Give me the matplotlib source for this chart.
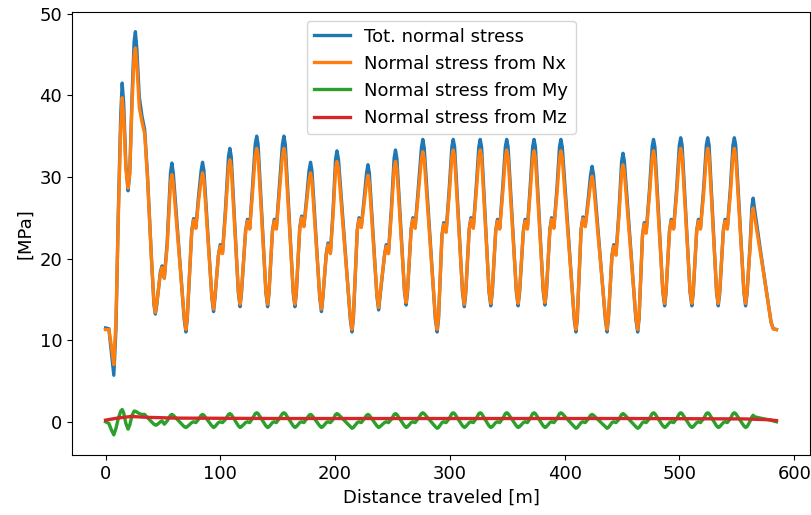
import matplotlib
matplotlib.use("Agg")
import matplotlib.pyplot as plt
import numpy as np

plt.rcParams['font.size'] = 13

# distance along the track [m], shared by the total, Nx and My series
dist = [
    0.0, 2.9, 5.1, 7.2, 9.1, 11.1, 13.2, 14.5, 15.8, 17.7, 19.6, 21.1, 23.1, 24.9, 26.0, 27.2,
    29.4, 31.8, 34.1, 36.5, 40.0, 42.2,
    43.4, 44.5, 47.8, 49.2, 51.2, 53.7, 56.6, 57.8, 59.0, 68.5,
    70.0, 71.2, 75.1, 76.7, 78.7, 81.0, 83.3, 84.5, 85.7, 92.6,
    94.1, 95.3, 98.3, 99.9, 101.9, 104.5, 107.1, 108.3, 109.5, 115.7,
    117.2, 118.4, 122.0, 123.6, 125.6, 128.0, 130.4, 131.7, 132.9, 139.7,
    141.2, 142.4, 145.4, 147.0, 148.8, 151.4, 154.1, 155.4, 156.6, 163.5,
    165.0, 166.2, 169.2, 170.8, 172.8, 174.9, 177.3, 178.6, 179.8, 186.6,
    188.1, 189.3, 192.3, 193.8, 195.9, 198.3, 200.4, 201.6, 202.9, 213.2,
    214.7, 215.9, 219.3, 220.8, 222.8, 225.0, 227.4, 228.6, 229.8, 236.4,
    237.9, 239.1, 243.0, 244.5, 246.5, 249.0, 251.4, 252.6, 253.8, 260.4,
    261.9, 263.1, 266.2, 267.7, 269.7, 272.4, 275.2, 276.4, 277.6, 287.3,
    288.9, 290.1, 293.1, 294.6, 296.7, 299.4, 301.7, 302.9, 304.1, 311.0,
    312.6, 313.8, 316.8, 318.3, 320.4, 322.9, 325.2, 326.4, 327.6, 334.1,
    335.6, 336.9, 339.9, 341.4, 343.4, 346.0, 348.3, 349.5, 350.7, 357.9,
    359.4, 360.7, 364.0, 365.5, 367.5, 369.9, 372.1, 373.3, 374.5, 381.3,
    382.8, 384.1, 387.1, 388.6, 390.6, 393.3, 395.5, 396.7, 397.9, 408.3,
    409.8, 411.0, 414.3, 415.9, 417.9, 420.2, 422.6, 423.9, 425.1, 435.4,
    436.9, 438.1, 441.2, 442.7, 444.7, 447.3, 449.6, 450.8, 452.0, 462.0,
    463.6, 464.8, 467.8, 469.3, 471.0, 473.9, 476.2, 477.4, 478.6, 485.5,
    487.1, 488.3, 491.3, 492.8, 494.9, 497.6, 499.9, 501.1, 502.3, 509.2,
    510.8, 512.0, 515.0, 516.5, 518.3, 521.1, 523.4, 524.6, 525.8, 532.3,
    533.8, 535.1, 538.2, 539.7, 541.7, 544.4, 546.6, 547.8, 549.0, 556.1,
    557.6, 558.9, 561.6, 563.1, 564.2, 565.6, 572.2, 579.8, 581.7, 584.5,
]

# normal stress from the axial force Nx [MPa]
sigma_nx = [
    11.3, 11.3, 9.3, 7.0, 12.5, 25.0, 36.0, 39.7, 37.5, 31.0, 28.6, 30.5, 39.0, 44.8, 45.8, 44.0,
    38.5, 36.7, 35.3, 30.0, 20.0, 14.6,
    13.4, 14.4, 18.2, 18.9, 17.6, 21.5, 29.3, 30.3, 29.3, 12.9,
    11.3, 12.9, 23.3, 24.7, 23.7, 27.0, 29.6, 30.5, 29.6, 15.4,
    13.8, 15.4, 20.3, 21.5, 20.6, 25.5, 31.2, 32.1, 31.2, 16.0,
    14.4, 16.0, 23.3, 24.6, 23.6, 28.0, 32.6, 33.5, 32.6, 16.0,
    14.4, 16.0, 23.3, 24.6, 23.6, 28.0, 32.6, 33.5, 32.6, 16.0,
    14.4, 16.0, 23.7, 25.0, 23.9, 26.5, 29.6, 30.5, 29.6, 15.4,
    13.8, 15.4, 20.5, 21.7, 20.6, 25.5, 31.0, 31.9, 31.0, 12.9,
    11.3, 12.9, 23.4, 24.8, 23.8, 26.4, 29.3, 30.2, 29.3, 15.6,
    14.0, 15.6, 20.3, 21.5, 20.6, 25.5, 31.0, 31.9, 31.0, 16.2,
    14.6, 16.2, 23.5, 24.8, 23.7, 27.8, 32.2, 33.1, 32.2, 12.9,
    11.3, 12.9, 22.8, 24.2, 23.2, 27.8, 32.4, 33.3, 32.4, 16.0,
    14.4, 16.0, 23.5, 24.8, 23.7, 28.0, 32.4, 33.3, 32.4, 16.1,
    14.5, 16.1, 23.3, 24.6, 23.6, 28.0, 32.4, 33.3, 32.4, 16.1,
    14.5, 16.1, 23.3, 24.6, 23.6, 28.0, 32.3, 33.2, 32.3, 16.2,
    14.6, 16.2, 23.5, 24.8, 23.7, 28.0, 32.3, 33.2, 32.3, 12.9,
    11.3, 12.9, 23.5, 24.9, 23.9, 26.4, 29.2, 30.1, 29.2, 12.9,
    11.3, 12.9, 20.3, 21.5, 20.4, 25.2, 30.6, 31.5, 30.6, 12.9,
    11.3, 12.9, 22.8, 24.2, 23.1, 27.8, 32.3, 33.2, 32.3, 16.1,
    14.5, 16.1, 23.3, 24.6, 23.6, 28.0, 32.6, 33.5, 32.6, 16.1,
    14.5, 16.1, 23.3, 24.6, 23.6, 28.0, 32.6, 33.5, 32.6, 16.1,
    14.5, 16.1, 23.3, 24.6, 23.6, 28.0, 32.6, 33.5, 32.6, 16.1,
    14.5, 16.0, 21.5, 25.4, 26.2, 25.0, 19.2, 12.2, 11.4, 11.3,
]

# total normal stress [MPa]
sigma_tot = [
    11.5, 11.4, 8.5, 5.7, 11.5, 25.5, 37.5, 41.5, 39.0, 31.5, 28.3, 30.5, 40.0, 46.6, 47.8, 45.8,
    39.8, 37.4, 35.8, 30.3, 20.0, 14.3,
    13.2, 14.2, 18.4, 19.1, 17.6, 22.0, 30.5, 31.7, 30.5, 12.6,
    11.0, 12.6, 23.4, 24.9, 23.8, 27.6, 30.8, 31.8, 30.8, 15.2,
    13.5, 15.1, 20.4, 21.7, 20.7, 26.1, 32.5, 33.5, 32.5, 15.8,
    14.1, 15.7, 23.4, 24.8, 23.7, 28.7, 34.0, 35.0, 34.0, 15.8,
    14.1, 15.7, 23.4, 24.8, 23.7, 28.7, 34.0, 35.0, 34.0, 15.8,
    14.1, 15.7, 23.8, 25.2, 24.0, 27.0, 30.8, 31.8, 30.8, 15.2,
    13.5, 15.1, 20.6, 21.9, 20.7, 26.1, 32.2, 33.2, 32.2, 12.6,
    11.0, 12.6, 23.5, 25.0, 23.9, 26.9, 30.5, 31.5, 30.5, 15.4,
    13.7, 15.3, 20.4, 21.7, 20.7, 26.1, 32.3, 33.3, 32.3, 16.0,
    14.3, 15.9, 23.6, 25.0, 23.8, 28.5, 33.6, 34.6, 33.6, 12.6,
    11.0, 12.6, 22.9, 24.4, 23.3, 28.5, 33.7, 34.6, 33.7, 15.8,
    14.1, 15.7, 23.6, 25.0, 23.8, 28.7, 33.7, 34.6, 33.7, 15.9,
    14.2, 15.8, 23.4, 24.8, 23.7, 28.7, 33.7, 34.6, 33.7, 15.9,
    14.2, 15.8, 23.4, 24.8, 23.7, 28.7, 33.7, 34.6, 33.7, 16.0,
    14.3, 15.9, 23.6, 25.0, 23.8, 28.7, 33.7, 34.6, 33.7, 12.6,
    11.0, 12.6, 23.6, 25.1, 24.0, 26.9, 30.3, 31.3, 30.3, 12.6,
    11.0, 12.6, 20.4, 21.7, 20.5, 25.8, 31.9, 32.9, 31.9, 12.6,
    11.0, 12.6, 22.9, 24.4, 23.2, 28.5, 33.7, 34.6, 33.7, 15.9,
    14.2, 15.8, 23.4, 24.8, 23.7, 28.7, 33.9, 34.8, 33.9, 15.9,
    14.2, 15.8, 23.4, 24.8, 23.7, 28.7, 33.9, 34.8, 33.9, 15.9,
    14.2, 15.8, 23.4, 24.8, 23.7, 28.7, 33.9, 34.8, 33.9, 15.9,
    14.2, 15.7, 21.9, 26.4, 27.4, 25.9, 19.4, 12.2, 11.4, 11.3,
]

# normal stress from the bending moment My [MPa]
sigma_my = [
    0.0, -0.2, -1.0, -1.6, -0.8, 0.4, 1.3, 1.5, 1.1, -0.2, -0.9, -0.4, 0.8, 1.3, 1.3, 1.2,
    1.0, 0.9, 0.9, 0.5, 0.0, -0.3,
    -0.4, -0.4, 0.0, 0.1, -0.3, 0.1, 0.8, 0.9, 0.8, -0.6,
    -0.7, -0.6, -0.1, 0.0, -0.1, 0.3, 0.8, 0.9, 0.8, -0.5,
    -0.7, -0.6, -0.1, 0.0, -0.1, 0.3, 0.9, 1.0, 0.9, -0.5,
    -0.7, -0.6, -0.1, 0.0, -0.1, 0.4, 1.0, 1.1, 1.0, -0.5,
    -0.7, -0.6, -0.1, 0.0, -0.1, 0.4, 1.0, 1.1, 1.0, -0.5,
    -0.7, -0.6, -0.1, 0.0, -0.1, 0.3, 0.8, 0.9, 0.8, -0.5,
    -0.7, -0.6, -0.1, 0.0, -0.1, 0.3, 0.9, 1.0, 0.9, -0.6,
    -0.8, -0.7, -0.1, 0.0, -0.1, 0.3, 0.8, 0.9, 0.8, -0.5,
    -0.7, -0.6, -0.1, 0.0, -0.1, 0.3, 0.9, 1.0, 0.9, -0.5,
    -0.7, -0.6, -0.1, 0.0, -0.1, 0.4, 1.0, 1.1, 1.0, -0.6,
    -0.8, -0.7, -0.1, 0.0, -0.1, 0.4, 1.0, 1.1, 1.0, -0.5,
    -0.7, -0.6, -0.1, 0.0, -0.1, 0.4, 1.0, 1.1, 1.0, -0.5,
    -0.7, -0.6, -0.1, 0.0, -0.1, 0.4, 1.0, 1.1, 1.0, -0.5,
    -0.7, -0.6, -0.1, 0.0, -0.1, 0.4, 1.0, 1.1, 1.0, -0.5,
    -0.7, -0.6, -0.1, 0.0, -0.1, 0.4, 1.0, 1.1, 1.0, -0.6,
    -0.8, -0.7, -0.1, 0.0, -0.1, 0.3, 0.8, 0.9, 0.8, -0.6,
    -0.8, -0.7, -0.1, 0.0, -0.1, 0.3, 0.9, 1.0, 0.9, -0.6,
    -0.8, -0.7, -0.1, 0.0, -0.1, 0.4, 1.0, 1.1, 1.0, -0.5,
    -0.7, -0.6, -0.1, 0.0, -0.1, 0.4, 1.0, 1.1, 1.0, -0.5,
    -0.7, -0.6, -0.1, 0.0, -0.1, 0.4, 1.0, 1.1, 1.0, -0.5,
    -0.7, -0.6, -0.1, 0.0, -0.1, 0.4, 1.0, 1.1, 1.0, -0.5,
    -0.7, -0.6, 0.1, 0.6, 0.8, 0.6, 0.4, 0.2, 0.1, 0.0,
]

# normal stress from the bending moment Mz [MPa], varies slowly
dist_mz = [0.0, 10.1, 22.3, 35.4, 60.8, 151.9, 303.8, 455.8, 557.0, 577.3, 584.5]
sigma_mz = [0.2, 0.45, 0.65, 0.55, 0.45, 0.4, 0.4, 0.4, 0.35, 0.25, 0.15]

fig = plt.figure(figsize=(8.11, 5.15), dpi=100)
ax = fig.add_axes([72 / 811, 1 - 455 / 515, 738 / 811, 443.5 / 515])

lw = 2.4
ax.plot(dist, sigma_tot, color='C0', lw=lw, label='Tot. normal stress')
ax.plot(dist, sigma_nx, color='C1', lw=lw, label='Normal stress from Nx')
ax.plot(dist, sigma_my, color='C2', lw=lw, label='Normal stress from My')
ax.plot(dist_mz, sigma_mz, color='C3', lw=lw, label='Normal stress from Mz')

ax.set_xlabel('Distance traveled [m]')
ax.set_ylabel('[MPa]')
ax.legend(loc='upper center')

fig.savefig('out.png', dpi=100)
